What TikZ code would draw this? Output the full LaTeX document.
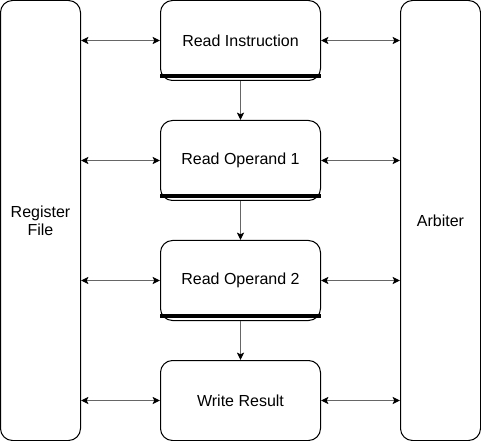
\documentclass[tikz,border=0pt]{standalone}
\usepackage{fontspec}
\setmainfont{Liberation Sans}
\usetikzlibrary{arrows.meta}
\begin{document}
\begin{tikzpicture}[x=0.75pt,y=-0.75pt,
  box/.style={draw=black,line width=0.75pt,rounded corners=9pt,fill=white,
    minimum width=120pt,minimum height=60pt,inner sep=0pt,font=\fontsize{12}{13.5}\selectfont,align=center},
  side/.style={box,minimum width=60pt,minimum height=330pt},
  conn/.style={draw=black!60,line width=0.75pt},
  bar/.style={line width=2.8pt,black}]
\useasboundingbox (0,0) rectangle (481,441);
\node[side] (rf) at (40.5,220.5) {Register\\File};
\node[side] (arb) at (440.5,220.5) {Arbiter};
\node[box] (ri) at (240.5,40.5) {Read Instruction};
\node[box] (ro1) at (240.5,160.5) {Read Operand 1};
\node[box] (ro2) at (240.5,280.5) {Read Operand 2};
\node[box] (wr) at (240.5,400.5) {Write Result};
\foreach \n in {ri,ro1,ro2}{
  \draw[bar] ([yshift=3.9pt]\n.south west) -- ([yshift=3.9pt]\n.south east);
}
\foreach \n in {ri,ro1,ro2,wr}{
  \draw[conn,{Stealth[length=5.5pt,width=5.25pt,inset=1.2pt,color=black]}-{Stealth[length=5.5pt,width=5.25pt,inset=1.2pt,color=black]}] (rf.east |- \n.west) -- (\n.west);
  \draw[conn,{Stealth[length=5.5pt,width=5.25pt,inset=1.2pt,color=black]}-{Stealth[length=5.5pt,width=5.25pt,inset=1.2pt,color=black]}] (\n.east) -- (arb.west |- \n.east);
}
\draw[conn,-{Stealth[length=5.5pt,width=5.25pt,inset=1.2pt,color=black]}] (ri.south) -- (ro1.north);
\draw[conn,-{Stealth[length=5.5pt,width=5.25pt,inset=1.2pt,color=black]}] (ro1.south) -- (ro2.north);
\draw[conn,-{Stealth[length=5.5pt,width=5.25pt,inset=1.2pt,color=black]}] (ro2.south) -- (wr.north);
\end{tikzpicture}
\end{document}
